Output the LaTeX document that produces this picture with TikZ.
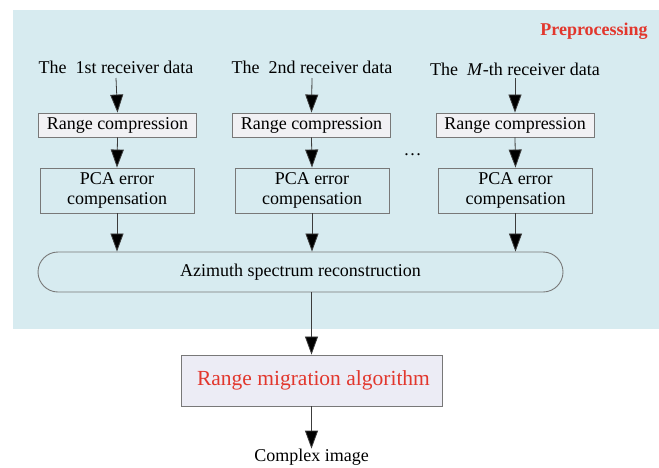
\documentclass[tikz,border=0pt]{standalone}
\usepackage{fontspec}
\setmainfont{Liberation Serif}
\usetikzlibrary{arrows.meta}
\definecolor{panelblue}{RGB}{215,235,240}
\definecolor{boxgray}{RGB}{241,241,244}
\definecolor{rmafill}{RGB}{236,236,245}
\definecolor{edgegray}{RGB}{120,120,120}
\definecolor{titlered}{RGB}{226,55,45}
\definecolor{linegray}{RGB}{60,60,60}
\begin{document}
\begin{tikzpicture}[x=1pt,y=-1pt,
  txt/.style={font=\fontsize{18}{20}\selectfont, inner sep=0pt},
  rcbox/.style={txt, draw=edgegray, fill=boxgray, line width=0.9pt,
    minimum width=158pt, minimum height=24pt},
  pcabox/.style={txt, draw=edgegray, fill=panelblue, line width=0.9pt,
    minimum width=154pt, minimum height=45pt, align=center},
  flow/.style={draw=linegray, line width=0.8pt,
    -{Triangle[length=18pt,width=13pt,fill=black]}}]
\useasboundingbox (0,0) rectangle (659,467);
\fill[white] (0,0) rectangle (659,467);
% shaded preprocessing panel
\fill[panelblue] (13,10) rectangle (659,329);
\node[font=\fontsize{18}{20}\selectfont\bfseries, text=titlered, inner sep=0pt]
  (prep) at (594,31) {Preprocessing};

% receiver inputs
\node[txt] (in1) at (116,67) {The\ \ 1st receiver data};
\node[txt] (in2) at (312,67) {The\ \ 2nd receiver data};
\node[txt] (in3) at (515,69) {The\ \ \textit{M}-th receiver data};

% range compression
\node[rcbox] (rc1) at (117.5,125) {Range compression};
\node[rcbox] (rc2) at (311.5,125) {Range compression};
\node[rcbox] (rc3) at (515,125) {Range compression};

\node[txt] (dots) at (412.5,155) {\dots};

% PCA error compensation
\node[pcabox] (pca1) at (117,190.5) {PCA error\\compensation};
\node[pcabox] (pca2) at (312,190.5) {PCA error\\compensation};
\node[pcabox] (pca3) at (515.5,190.5) {PCA error\\compensation};

% azimuth reconstruction
\node[txt, draw=edgegray, fill=panelblue, line width=0.9pt,
  minimum width=525pt, minimum height=40pt, rounded corners=20pt]
  (az) at (300.5,272) {Azimuth spectrum reconstruction};

% range migration
\node[font=\fontsize{21.5}{24}\selectfont, text=titlered, inner sep=0pt,
  draw=edgegray, fill=rmafill, line width=0.9pt,
  minimum width=261pt, minimum height=51pt] (rma) at (311.5,380.5)
  {\hspace*{4pt}Range migration algorithm};

\node[txt] (out) at (311.5,457) {Complex image};

% connectors
\foreach \i in {1,2,3}{
  \draw[flow] (in\i.south |- 0,78) -- (rc\i.north);
  \draw[flow] (rc\i.south) -- (pca\i.north);
  \draw[flow] (pca\i.south) -- (pca\i.south |- az.north);
}
\draw[flow] (rma.north |- az.south) -- (rma.north);
\draw[flow] (rma.south) -- (out.north);
\end{tikzpicture}
\end{document}
